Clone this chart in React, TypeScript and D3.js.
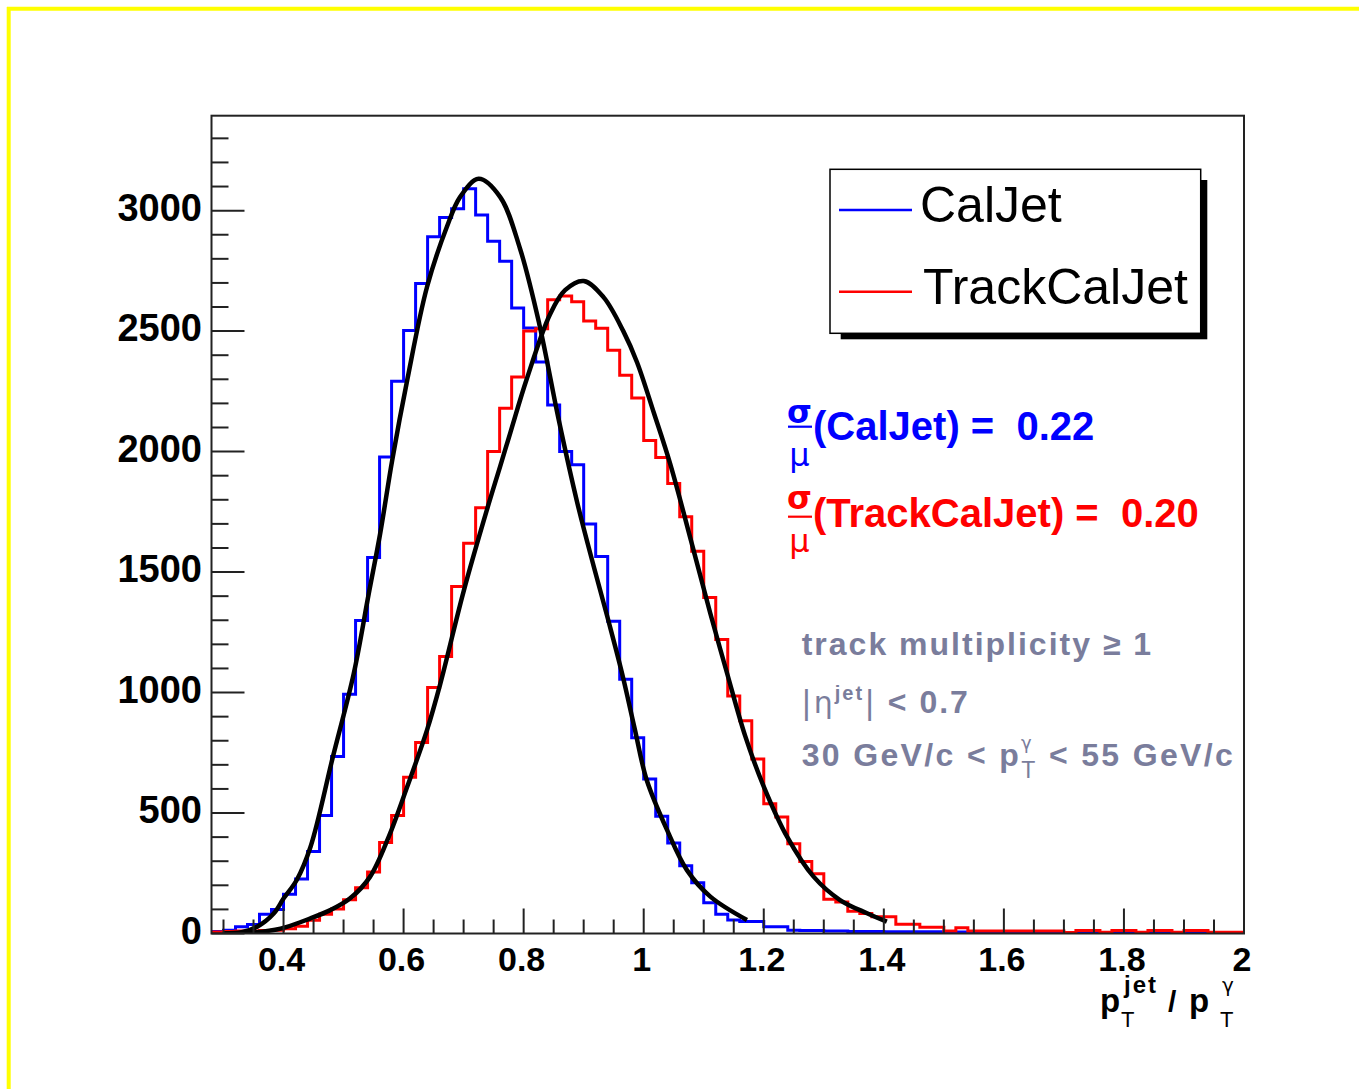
import React from 'react';
import * as d3 from 'd3';

// ---------- data ----------
const BIN_START = 0.28;
const BIN_WIDTH = 0.02;

// CalJet histogram, bins of 0.02 starting at 0.28
const calJetCounts = [
  8, 14, 28, 37, 80, 100, 163, 226, 340, 490,
  735, 993, 1299, 1560, 1978, 2292, 2503, 2698, 2892, 2972,
  3008, 3091, 2982, 2873, 2790, 2596, 2513, 2372, 2193, 2000,
  1945, 1700, 1565, 1296, 1055, 812, 641, 487, 376, 281,
  211, 128, 80, 56, 50, 50, 28, 28, 14, 12,
  12, 10, 10, 8, 8, 8, 7, 7, 7, 7,
  7, 6, 6, 4, 4, 3, 3, 2, 2, 2,
  1, 1, 1, 1, 1, 1, 0, 1, 0, 0,
  1, 0, 0, 0, 0, 0,
];

// TrackCalJet histogram, same binning
const trackCalJetCounts = [
  6, 8, 10, 10, 12, 14, 20, 30, 55, 80,
  102, 140, 190, 255, 378, 490, 648, 793, 1021, 1150,
  1440, 1620, 1767, 2000, 2180, 2310, 2500, 2510, 2630, 2646,
  2622, 2542, 2512, 2421, 2317, 2222, 2046, 1975, 1868, 1730,
  1586, 1394, 1220, 986, 883, 724, 538, 483, 372, 299,
  248, 142, 131, 92, 83, 69, 69, 38, 38, 26,
  26, 10, 24, 10, 10, 10, 10, 10, 10, 10,
  10, 4, 12, 12, 5, 12, 12, 5, 12, 12,
  5, 12, 12, 5, 5, 5,
];

// fitted curves: [x, value]
const calJetFit: [number, number][] = [
  [0.3, 0], [0.33, 5], [0.356, 28], [0.384, 84], [0.4, 145], [0.422, 222],
  [0.445, 360], [0.482, 731], [0.517, 1079], [0.542, 1411], [0.561, 1660],
  [0.581, 1964], [0.606, 2296], [0.639, 2683], [0.672, 2932], [0.694, 3056],
  [0.725, 3132], [0.761, 3056], [0.794, 2842], [0.826, 2530], [0.858, 2137],
  [0.889, 1791], [0.917, 1521], [0.941, 1300], [0.964, 1079], [0.985, 850],
  [1.005, 637], [1.039, 429], [1.072, 263], [1.111, 153], [1.172, 56],
];

const trackCalJetFit: [number, number][] = [
  [0.3, 0], [0.35, 4], [0.395, 20], [0.444, 62], [0.478, 97], [0.511, 146],
  [0.544, 235], [0.575, 400], [0.606, 609], [0.639, 844], [0.661, 1035],
  [0.7, 1420], [0.739, 1760], [0.761, 1940], [0.778, 2080], [0.805, 2300],
  [0.844, 2570], [0.869, 2670], [0.9, 2708], [0.933, 2641], [0.966, 2500],
  [0.989, 2370], [1.017, 2160], [1.044, 1950], [1.081, 1610], [1.111, 1328],
  [1.139, 1079], [1.169, 820], [1.2, 610], [1.239, 401], [1.283, 236],
  [1.327, 139], [1.372, 84], [1.405, 49],
];

const xTickValues = [0.4, 0.6, 0.8, 1.0, 1.2, 1.4, 1.6, 1.8, 2.0];
const xTickLabels = ['0.4', '0.6', '0.8', '1', '1.2', '1.4', '1.6', '1.8', '2'];
const yTickValues = [0, 500, 1000, 1500, 2000, 2500, 3000];
const yTickLabels = ['0', '500', '1000', '1500', '2000', '2500', '3000'];

const seriesNames = ['CalJet', 'TrackCalJet'];
const seriesColors = ['#0000ff', '#ff0000'];
const resolutionValues = ['0.22', '0.20'];
const cutLine1 = 'track multiplicity \u2265 1';

const FONT = "'Liberation Sans', Arial, Helvetica, sans-serif";
const SYM = "'DejaVu Sans', 'Liberation Sans', sans-serif";
const GRAY = '#7a7d9c';

export default function App() {
  const W = 1359;
  const H = 1089;
  const frame = { left: 211.5, right: 1244, top: 115.7, bottom: 933.5 };

  const x = d3.scaleLinear().domain([0.28, 2.0]).range([frame.left, frame.right]);
  const y = d3.scaleLinear().domain([0, 3394]).range([frame.bottom, frame.top]);

  const toPoints = (counts: number[]): [number, number][] => {
    const pts: [number, number][] = counts.map((c, i) => [BIN_START + i * BIN_WIDTH, c]);
    pts.push([BIN_START + counts.length * BIN_WIDTH, counts[counts.length - 1]]);
    return pts;
  };

  const histLine = d3
    .line<[number, number]>()
    .x((d) => x(d[0]))
    .y((d) => y(d[1]))
    .curve(d3.curveStepAfter);

  const fitLine = d3
    .line<[number, number]>()
    .x((d) => x(d[0]))
    .y((d) => y(d[1]))
    .curve(d3.curveCatmullRom.alpha(0.5));

  const isXMajor = (v: number) => xTickValues.some((t) => Math.abs(t - v) < 1e-6);
  const xMinor = d3.range(0, 35).map((i) => 0.3 + i * 0.05).filter((v) => v <= 2.0001 && !isXMajor(v));
  const yMinor = d3.range(0, 34).map((i) => i * 100).filter((v) => v % 500 !== 0);

  const histograms = [calJetCounts, trackCalJetCounts];
  const fits = [calJetFit, trackCalJetFit];

  return (
    <svg
      width={W}
      height={H}
      style={{ position: 'absolute', left: 0, top: 0, background: '#fff' }}
      fontFamily={FONT}
    >
      <rect x={0} y={0} width={W} height={H} fill="#fff" />
      {/* yellow canvas border */}
      <line x1={8.7} y1={7} x2={8.7} y2={H} stroke="#ffff00" strokeWidth={4} />
      <line x1={7} y1={8.7} x2={W} y2={8.7} stroke="#ffff00" strokeWidth={4} />

      <defs>
        <clipPath id="plotClip">
          <rect x={frame.left} y={frame.top - 5} width={frame.right - frame.left} height={frame.bottom - frame.top + 5} />
        </clipPath>
      </defs>

      {/* histograms and fits */}
      <g clipPath="url(#plotClip)" fill="none" strokeLinejoin="miter">
        {histograms.map((h, i) => (
          <path key={i} d={histLine(toPoints(h)) || ''} stroke={seriesColors[i]} strokeWidth={3} />
        ))}
        {fits.map((f, i) => (
          <path key={'f' + i} d={fitLine(f) || ''} stroke="#000" strokeWidth={4.5} strokeLinejoin="round" />
        ))}
      </g>

      {/* frame */}
      <rect
        x={frame.left}
        y={frame.top}
        width={frame.right - frame.left}
        height={frame.bottom - frame.top}
        fill="none"
        stroke="#222"
        strokeWidth={2}
      />

      {/* ticks */}
      <g stroke="#222" strokeWidth={2}>
        {yTickValues.map((v) => (
          <line key={'ym' + v} x1={frame.left} x2={frame.left + 33} y1={y(v)} y2={y(v)} />
        ))}
        {yMinor.map((v) => (
          <line key={'yn' + v} x1={frame.left} x2={frame.left + 17} y1={y(v)} y2={y(v)} />
        ))}
        {xTickValues.map((v) => (
          <line key={'xm' + v} x1={x(v)} x2={x(v)} y1={frame.bottom} y2={frame.bottom - 25} />
        ))}
        {xMinor.map((v) => (
          <line key={'xn' + v} x1={x(v)} x2={x(v)} y1={frame.bottom} y2={frame.bottom - 14} />
        ))}
      </g>

      {/* tick labels */}
      <g fontWeight="bold" fill="#000">
        {yTickValues.map((v, i) => (
          <text key={'yl' + v} x={202} y={y(v) + 10} fontSize={38} textAnchor="end">
            {yTickLabels[i]}
          </text>
        ))}
        {xTickValues.map((v, i) => (
          <text key={'xl' + v} x={x(v) - 2} y={971} fontSize={34} textAnchor="middle">
            {xTickLabels[i]}
          </text>
        ))}
      </g>

      {/* x axis title */}
      <g fill="#000">
        <text x={1100} y={1012} fontSize={33} fontWeight="bold">p</text>
        <text x={1124} y={993} fontSize={24} fontWeight="bold" letterSpacing={2}>jet</text>
        <text x={1121} y={1027} fontSize={22}>T</text>
        <text x={1168} y={1012} fontSize={30} fontWeight="bold">/</text>
        <text x={1189} y={1012} fontSize={33} fontWeight="bold">p</text>
        <text x={1222} y={992} fontSize={20} fontFamily={SYM}>γ</text>
        <text x={1220} y={1027} fontSize={22}>T</text>
      </g>

      {/* legend */}
      <rect x={840.7} y={180} width={366.6} height={159.3} fill="#000" />
      <rect x={830} y={169.3} width={370.7} height={164} fill="#fff" stroke="#000" strokeWidth={1.5} />
      {seriesNames.map((name, i) => {
        const yy = i === 0 ? 210 : 291.7;
        return (
          <g key={name}>
            <line x1={839} x2={912} y1={yy} y2={yy} stroke={seriesColors[i]} strokeWidth={2.5} />
            <text x={i === 0 ? 920 : 923} y={i === 0 ? 222 : 304} fontSize={50} fill="#000">
              {name}
            </text>
          </g>
        );
      })}

      {/* resolution annotations */}
      {seriesNames.map((name, i) => {
        const base = i === 0 ? 440 : 526.7;
        const sigmaY = i === 0 ? 423 : 508.5;
        const barY = i === 0 ? 426.7 : 516.7;
        const muY = i === 0 ? 466 : 552;
        const c = seriesColors[i];
        return (
          <g key={'res' + name} fill={c}>
            <text x={799.5} y={sigmaY} fontSize={32} fontWeight="bold" fontFamily={SYM} textAnchor="middle">σ</text>
            <line x1={788} x2={812} y1={barY} y2={barY} stroke={c} strokeWidth={2.2} />
            <text x={799.5} y={muY} fontSize={32} fontFamily={SYM} textAnchor="middle">μ</text>
            <text x={813} y={base} fontSize={40} fontWeight="bold" style={{ whiteSpace: 'pre' }}>
              {`(${name}) =  ${resolutionValues[i]}`}
            </text>
          </g>
        );
      })}

      {/* selection cuts */}
      <g fill={GRAY} fontWeight="bold" fontSize={32} letterSpacing={2}>
        <text x={801.7} y={655}>{cutLine1}</text>

        <text x={801} y={713} style={{ whiteSpace: 'pre' }}>
          <tspan fontWeight="normal" fontFamily={SYM}>|</tspan>
          <tspan fontWeight="normal" fontFamily={SYM} fontSize={30}>η</tspan>
          <tspan fontSize={20} dy={-13}>jet</tspan>
          <tspan fontWeight="normal" fontFamily={SYM} dy={13}>|</tspan>
          <tspan>{' < 0.7'}</tspan>
        </text>

        <text x={801.7} y={766} letterSpacing={2.35} style={{ whiteSpace: 'pre' }}>
          <tspan>{'30 GeV/c < p'}</tspan>
          <tspan fontSize={18} fontWeight="normal" fontFamily={SYM} dy={-17}>γ</tspan>
          <tspan fontSize={23} fontWeight="normal" dx={-12.9} dy={29.2}>T</tspan>
          <tspan dy={-12.2}>{' < 55 GeV/c'}</tspan>
        </text>
      </g>
    </svg>
  );
}
